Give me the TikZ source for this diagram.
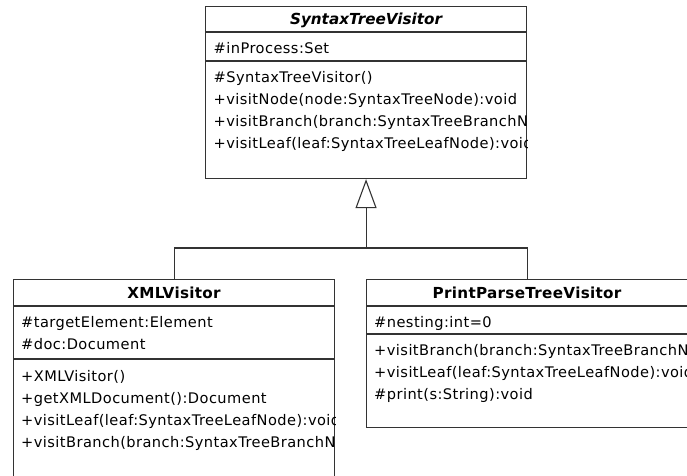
\documentclass[tikz,border=0pt]{standalone}
\usepackage{fontspec}
\setmainfont{DejaVu Sans}
\newfontfamily\umlfont[LetterSpace=3]{DejaVu Sans}
\newfontfamily\umltitle[LetterSpace=2]{DejaVu Sans}
\usetikzlibrary{arrows.meta}

\begin{document}
\begin{tikzpicture}[x=1pt, y=-1pt,
  cls/.style={draw=black!80, line width=1.1pt, anchor=north west, minimum width=321pt, inner sep=0pt},
  sep/.style={draw=black!80, line width=1.1pt},
  ttl/.style={anchor=base, inner sep=0pt, font=\umltitle\fontsize{15.2}{18}\selectfont\bfseries},
  mbr/.style={anchor=base west, inner sep=0pt, font=\umlfont\fontsize{14.6}{18}\selectfont}]
\fill[white] (0,0) rectangle (687,475);
\useasboundingbox (0,0) rectangle (687,475);
\clip (0,0) rectangle (687,475);
\node[cls, minimum height=172pt] (stv) at (205,6) {};
\node[cls, minimum height=230pt] (xml) at (13,279) {};
\node[cls, minimum height=148pt] (pptv) at (366,279) {};
\foreach \c/\y in {stv/32, stv/61, xml/306, xml/359, pptv/306, pptv/334}{
  \draw[sep] (\c.west |- 0,\y) -- (\c.east |- 0,\y);}
\node[ttl, font=\fontsize{15.2}{18}\selectfont\bfseries\itshape] (stv-t) at (stv.north |- 0,24.5) {SyntaxTreeVisitor};
\node[ttl] (xml-t) at (xml.north |- 0,298) {XMLVisitor};
\node[ttl] (pptv-t) at (pptv.north |- 0,298) {PrintParseTreeVisitor};
\begin{scope}
\clip (stv.south west) rectangle (stv.north east);
\node[mbr] (stv-a0) at (213.5,53) {\#inProcess:Set};
\foreach \m [count=\i from 0] in {\#SyntaxTreeVisitor(), +visitNode(node:SyntaxTreeNode):void,
  +visitBranch(branch:SyntaxTreeBranchNode):void, +visitLeaf(leaf:SyntaxTreeLeafNode):void}{
  \node[mbr] (stv-o\i) at (213.5,82.5+22*\i) {\m};}
\end{scope}
\begin{scope}
\clip (xml.south west) rectangle (xml.north east);
\node[mbr] (xml-a0) at (21,327.5) {\#targetElement:Element};
\node[mbr] (xml-a1) at (21,349.5) {\#doc:Document};
\foreach \m [count=\i from 0] in {+XMLVisitor(), +getXMLDocument():Document,
  +visitLeaf(leaf:SyntaxTreeLeafNode):void, +visitBranch(branch:SyntaxTreeBranchNode):void}{
  \node[mbr] (xml-o\i) at (21,381+22*\i) {\m};}
\end{scope}
\begin{scope}
\clip (pptv.south west) rectangle (pptv.north east);
\node[mbr] (pptv-a0) at (374,327.5) {\#nesting:int=0};
\foreach \m [count=\i from 0] in {+visitBranch(branch:SyntaxTreeBranchNode):void,
  +visitLeaf(leaf:SyntaxTreeLeafNode):void, \#print(s:String):void}{
  \node[mbr] (pptv-o\i) at (374,355.5+22*\i) {\m};}
\end{scope}
\coordinate (hub) at (stv.south |- 0,248);
\draw[sep, -{Triangle[open, length=29pt, width=21pt]}] (hub) -- (stv.south);
\draw[sep] (xml.north) |- (hub) -| (pptv.north);
\end{tikzpicture}
\end{document}
